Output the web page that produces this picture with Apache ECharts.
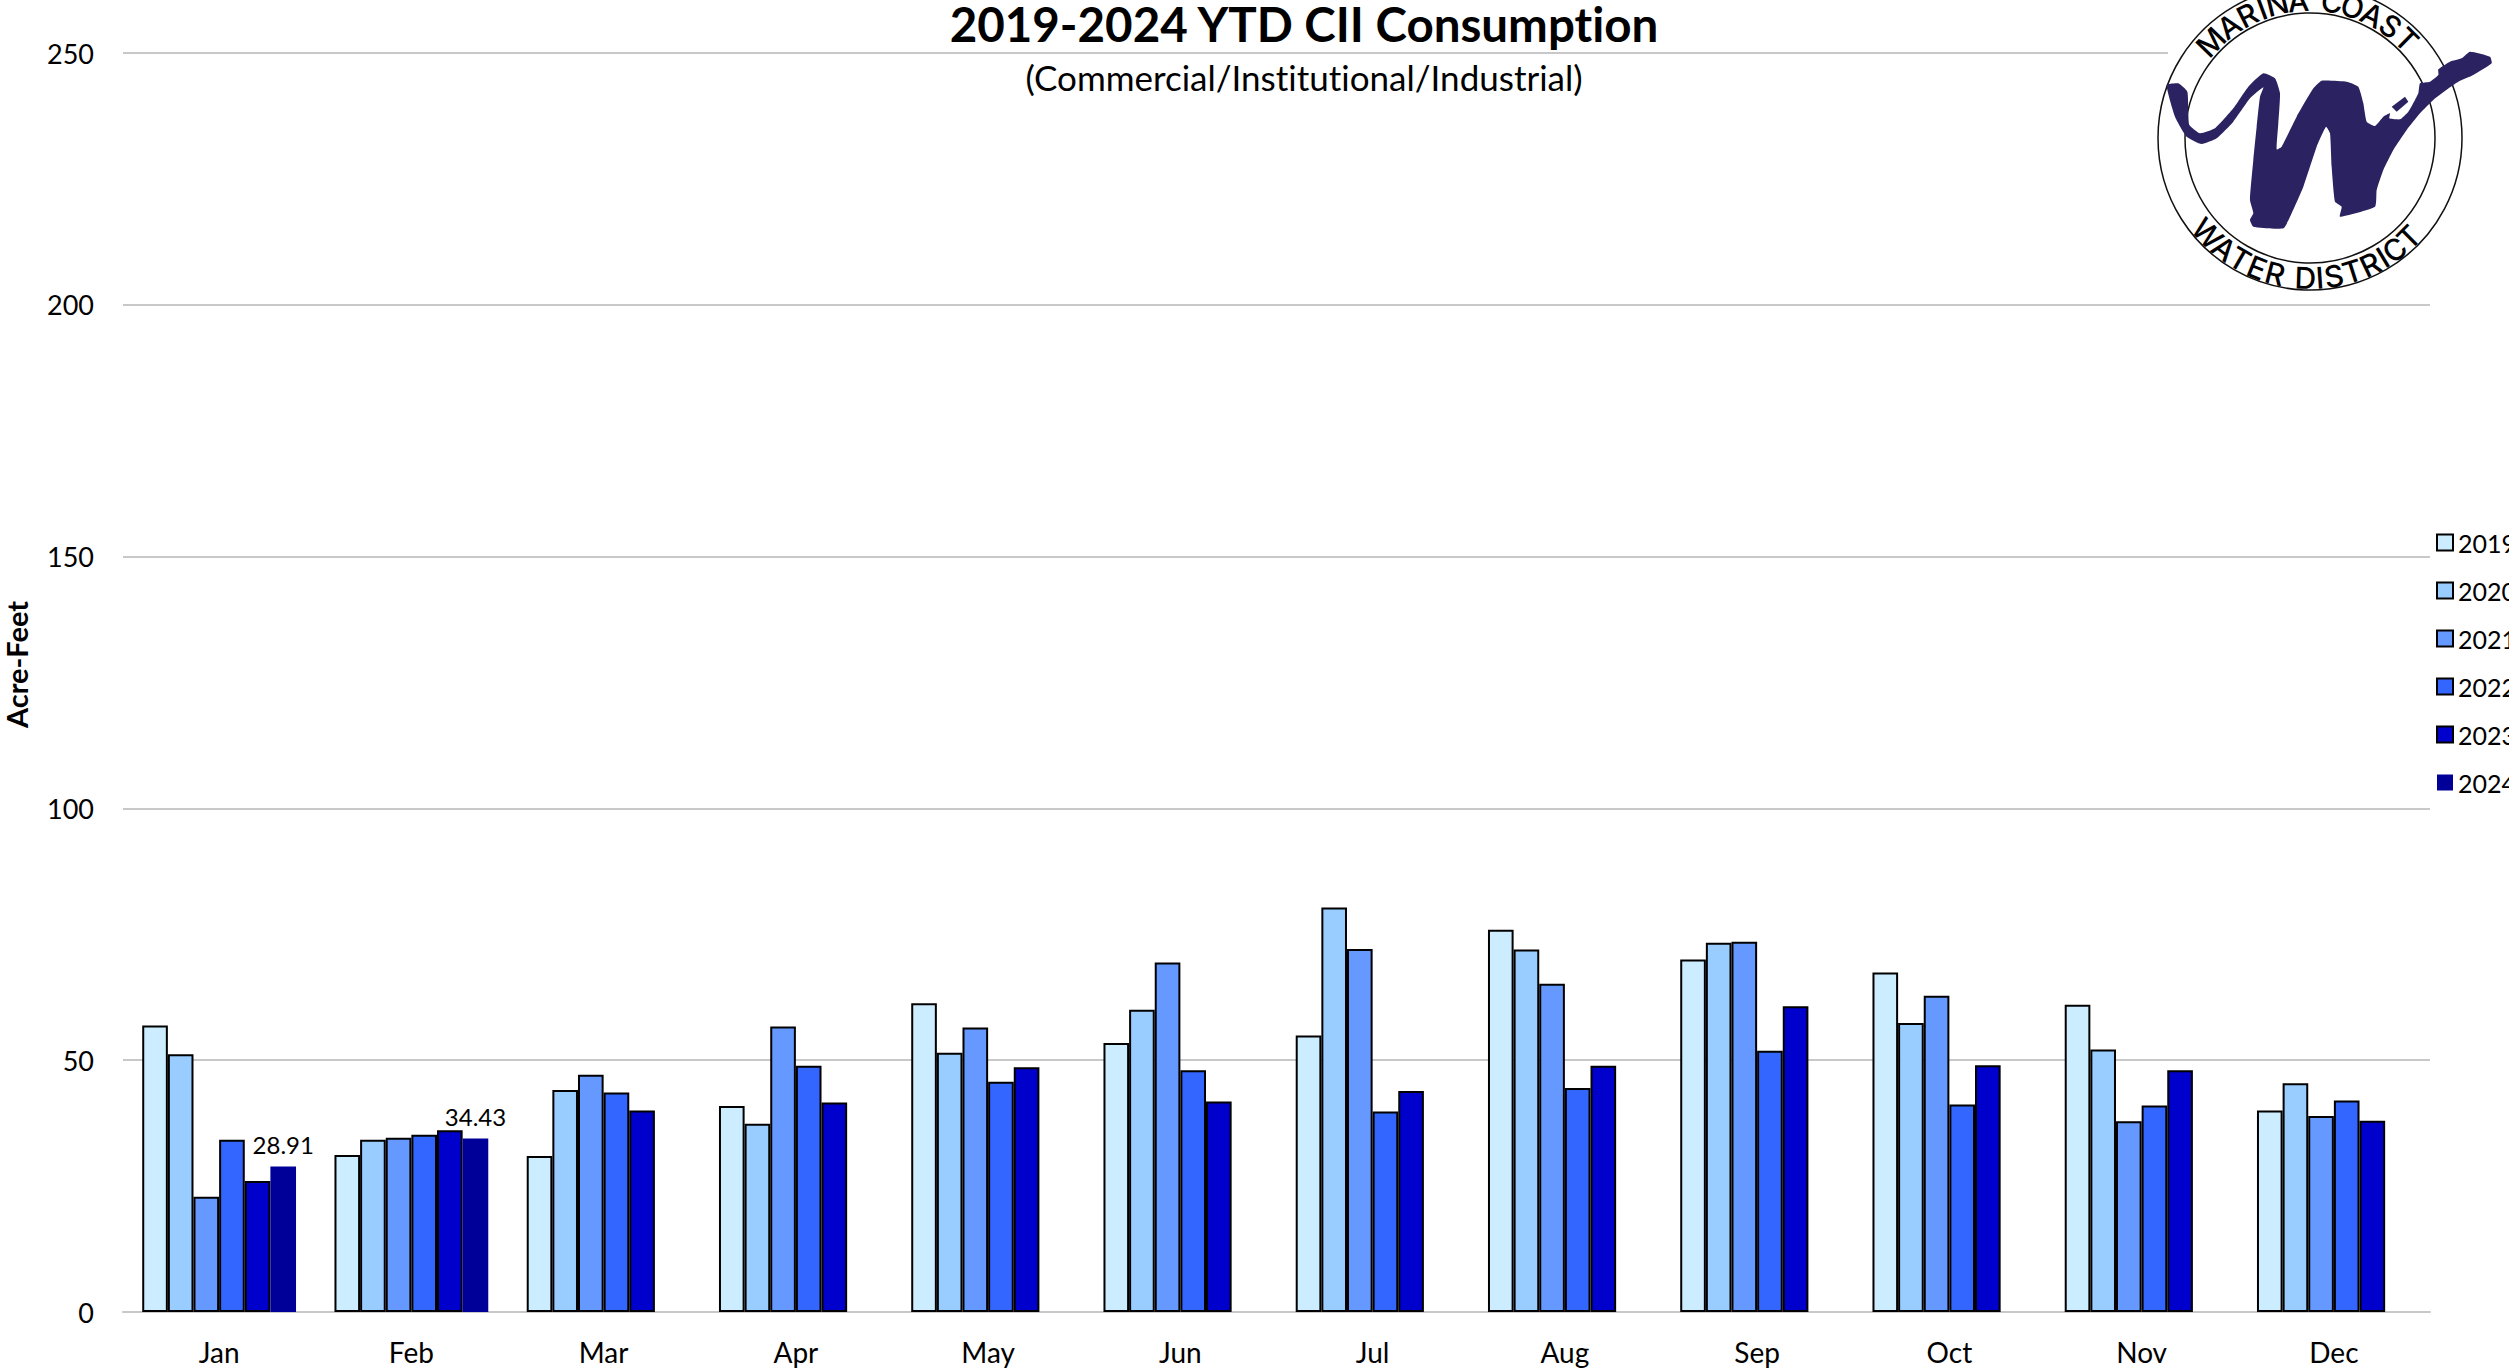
<!DOCTYPE html>
<html><head><meta charset="utf-8">
<style>html,body{margin:0;padding:0;background:#fff;overflow:hidden}#c{width:2509px;height:1368px}svg text{font-variant-ligatures:none}</style>
<script src="https://cdn.jsdelivr.net/npm/echarts@6/dist/echarts.min.js"></script>
</head><body><div id="c"></div>
<script>
const months = ['Jan','Feb','Mar','Apr','May','Jun','Jul','Aug','Sep','Oct','Nov','Dec'];
const yearNames = ['2019','2020','2021','2022','2023','2024'];
const yearColors = ['#CCECFF','#99CCFF','#6699FF','#3366FF','#0000CC','#000099'];
const y2019 = [56.9,31.2,31.0,40.9,61.3,53.4,54.9,75.9,70.0,67.4,61.0,40.0];
const y2020 = [51.2,34.2,44.1,37.4,51.5,60.0,80.3,72.0,73.3,57.4,52.1,45.4];
const y2021 = [22.9,34.6,47.1,56.7,56.5,69.4,72.1,65.2,73.5,62.8,37.9,38.9];
const y2022 = [34.2,35.2,43.6,48.9,45.7,48.0,39.8,44.5,51.9,41.2,41.0,42.0];
const y2023 = [26.0,36.1,40.0,41.6,48.6,41.8,43.9,48.9,60.7,49.0,48.0,38.0];
const y2024 = [28.91,34.43,null,null,null,null,null,null,null,null,null,null];
const yearValues = [y2019,y2020,y2021,y2022,y2023,y2024];

const FONT = 'Lato';
const series = yearNames.map((n,i)=>({
  name:n, type:'bar', data:yearValues[i], barGap:'0%', barCategoryGap:'20%',
  itemStyle:{color:yearColors[i], borderColor:i===5?yearColors[i]:'#000', borderWidth:i===5?0:2},
  label:i===5?{show:true,position:'top',distance:10,fontSize:24,color:'#000',fontFamily:FONT,
    formatter:p=>p.value.toFixed(2)}:{show:false},
  emphasis:{disabled:true}, animation:false
}));

// logo helpers (zoom-crop coordinates -> page)
const lx=v=>2100+v/3, ly=v=>v/3;
const wOutline=[[200,255],[235,250],[262,275],[265,340],[268,375],[300,400],[345,385],[400,325],[445,260],[490,220],[525,235],[540,280],[535,370],[530,448],[545,440],[590,350],[640,265],[665,242],[740,245],[775,260],[790,310],[800,365],[825,378],[850,350],[870,340],[868,355],[900,358],[925,335],[945,300],[955,280],[960,250],[990,245],[1015,225],[1015,208],[1050,185],[1085,175],[1110,155],[1170,170],[1175,190],[1120,225],[1075,245],[1050,262],[1000,300],[960,340],[920,390],[880,450],[850,510],[830,570],[825,620],[720,650],[725,620],[705,605],[695,500],[690,400],[678,380],[650,440],[610,560],[575,640],[550,685],[460,680],[450,660],[460,640],[450,600],[460,480],[470,380],[480,290],[490,262],[450,295],[400,365],[350,415],[305,432],[260,410],[225,350]];
const island=[[875,320],[915,290],[925,305],[890,335]];
const cx=2310, cy=138, rOut=152, rIn=125;
const logo=[
 {type:'rect',z:50,shape:{x:2168,y:0,width:341,height:75},style:{fill:'#fff'}},
 {type:'circle',z:51,shape:{cx,cy,r:rOut},style:{fill:'#fff',stroke:'#111',lineWidth:1.5}},
 {type:'circle',z:52,shape:{cx,cy,r:rIn},style:{fill:'#fff',stroke:'#111',lineWidth:1.5}},
 {type:'polygon',z:53,shape:{points:wOutline.map(p=>[lx(p[0]),ly(p[1])]),smooth:0.15},style:{fill:'#2B2261'}},
 {type:'polygon',z:53,shape:{points:island.map(p=>[lx(p[0]),ly(p[1])])},style:{fill:'#2B2261'}}
];
const W={I:0.5,' ':0.6,M:1.3,W:1.35};
function ringText(txt,startDeg,endDeg,r,bottom){
  const chars=[...txt], w=chars.map(c=>W[c]||1);
  const total=w.reduce((a,b)=>a+b,0)-w[0]/2-w[w.length-1]/2;
  let acc=0;
  chars.forEach((ch,i)=>{
    if(i>0) acc+=(w[i-1]+w[i])/2;
    const deg=startDeg+(endDeg-startDeg)*acc/total;
    const a=deg*Math.PI/180;
    const x=cx+r*Math.sin(a), y=cy-r*Math.cos(a);
    logo.push({type:'text',z:54,x,y,rotation:bottom?-(a-Math.PI):-a,
      style:{text:ch,fill:'#000',fontSize:30,fontFamily:'Inter',fontWeight:500,align:'center',verticalAlign:'middle'}});
  });
}
ringText('MARINA COAST',-46,44.5,138,false);
ringText('WATER DISTRICT',227,135,140,true);

const chart=echarts.init(document.getElementById('c'),null,{renderer:'svg'});
chart.setOption({
  animation:false, backgroundColor:'#fff',
  textStyle:{fontFamily:FONT},
  grid:{left:123,right:79,top:53,bottom:56,containLabel:false,outerBoundsMode:'none'},
  xAxis:{type:'category',data:months,
    axisLine:{show:true,lineStyle:{color:'#c8c8c8',width:2}},axisTick:{show:false},
    axisLabel:{fontSize:28,color:'#000',fontFamily:FONT,margin:26}},
  yAxis:{type:'value',min:0,max:250,interval:50,
    name:'Acre-Feet',nameLocation:'middle',nameGap:92,nameRotate:90,
    nameTextStyle:{fontSize:29,fontWeight:'bold',color:'#000',fontFamily:FONT,padding:[0,0,0,36]},
    axisLine:{show:false},axisTick:{show:false},
    splitLine:{lineStyle:{color:'#c8c8c8',width:2}},
    axisLabel:{fontSize:27,color:'#000',fontFamily:FONT,margin:29}},
  legend:{orient:'vertical',left:2431,top:525,itemWidth:16,itemHeight:16,itemGap:23,
    data:yearNames,icon:'rect',textStyle:{fontSize:25,color:'#000',fontFamily:FONT},selectedMode:false},
  title:[
    {text:'2019-2024 YTD CII Consumption',left:1299,top:-6,textAlign:'center',
     textStyle:{fontSize:47.5,fontWeight:'bold',color:'#000',fontFamily:FONT}},
    {text:'(Commercial/Institutional/Industrial)',left:1299,top:54,textAlign:'center',
     textStyle:{fontSize:35,fontWeight:'normal',color:'#000',fontFamily:FONT}}
  ],
  series,
  graphic:{elements:logo}
});
</script></body></html>
